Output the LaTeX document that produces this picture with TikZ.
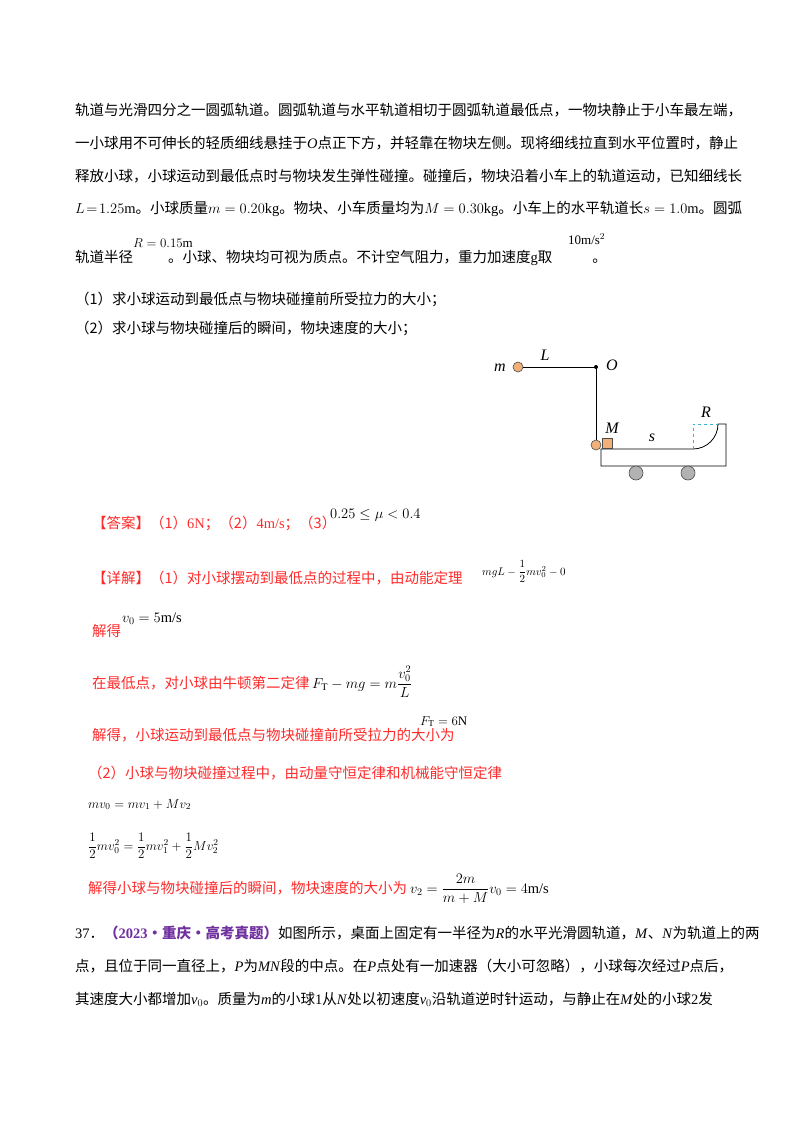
\RequirePackage{fix-cm}
\documentclass[tikz,border=0pt]{standalone}
\usepackage{amsmath}
\usepackage{fontspec}
\setmainfont{Liberation Serif}
\newfontfamily\cjk{Noto Sans CJK SC}
\definecolor{ansred}{HTML}{FF2A2A}
\definecolor{ptitle}{HTML}{7030A0}
\definecolor{ballc}{HTML}{F0B07A}
\definecolor{cyanl}{HTML}{33B5D6}
\newcommand\zh[1]{{\cjk #1}}
\begin{document}
\begin{tikzpicture}[x=1pt,y=-1pt,
  txt/.style={anchor=base west,inner sep=0pt,font=\fontsize{14.5}{17}\selectfont},
  red/.style={txt,text=ansred},
  sm/.style={anchor=base west,inner sep=0pt,font=\fontsize{13}{15}\selectfont},
  lbl/.style={inner sep=0pt,font=\fontsize{16}{18}\selectfont\itshape},
  ball/.style={circle,draw=black!70,fill=ballc,line width=0.6pt,minimum size=10pt,inner sep=0pt},
  wheel/.style={circle,draw=black!70,fill=black!30,line width=0.6pt,minimum size=14pt,inner sep=0pt}]
\useasboundingbox[fill=white] (0,0) rectangle (800,1132);
% problem text
\node[txt] (t1) at (75,115) {\zh{轨道与光滑四分之一圆弧轨道。圆弧轨道与水平轨道相切于圆弧轨道最低点，一物块静止于小车最左端，}};
\node[txt] (t2) at (75,148) {\zh{一小球用不可伸长的轻质细线悬挂于}$\mathit{O}$\zh{点正下方，并轻靠在物块左侧。现将细线拉直到水平位置时，静止}};
\node[txt] (t3) at (75,181) {\zh{释放小球，小球运动到最低点时与物块发生弹性碰撞。碰撞后，物块沿着小车上的轨道运动，已知细线长}};
\node[txt] (t4) at (75,213) {$L\!=\!1.25$m\zh{。小球质量}$m=0.20$kg\zh{。物块、小车质量均为}$M=0.30$kg\zh{。小车上的水平轨道长}$s=1.0$m\zh{。圆弧}};
\node[txt] (t5) at (75,262) {\zh{轨道半径}\hspace{35pt}\zh{。小球、物块均可视为质点。不计空气阻力，重力加速度}g\zh{取}\hspace{40pt}\zh{。}};
\node[sm] (t5a) at (133,247) {$R=0.15$m};
\node[sm] (t5b) at (568,244) {10m/s$^2$};
\node[txt] (q1) at (75,304) {\zh{（1）求小球运动到最低点与物块碰撞前所受拉力的大小；}};
\node[txt] (q2) at (75,333) {\zh{（2）求小球与物块碰撞后的瞬间，物块速度的大小；}};
% answer
\node[red] (a1) at (92,528) {\zh{【答案】（1）}6N\zh{；（2）}4m/s\zh{；（3）}};
\node[txt] (a1b) at (330,518) {$0.25\le\mu<0.4$};
\node[red] (d1) at (92,583) {\zh{【详解】（1）对小球摆动到最低点的过程中，由动能定理}};
\node[sm,font=\fontsize{11}{13}\selectfont] (d1b) at (482,575) {$mgL-\dfrac12 mv_0^2-0$};
\node[red] (d2) at (92,636) {\zh{解得}};
\node[txt] (d2b) at (122,622) {$v_0=5$m/s};
\node[red] (d3) at (92,688) {\zh{在最低点，对小球由牛顿第二定律}};
\node[txt] (d3b) at (312,688) {$F_{\mathrm T}-mg=m\dfrac{v_0^2}{L}$};
\node[red] (d4) at (92,740) {\zh{解得，小球运动到最低点与物块碰撞前所受拉力的大小为}};
\node[sm] (d4b) at (420,725) {$F_{\mathrm T}=6$N};
\node[red] (d5) at (88,778) {\zh{（2）小球与物块碰撞过程中，由动量守恒定律和机械能守恒定律}};
\node[sm] (d6) at (88,808) {$mv_0=mv_1+Mv_2$};
\node[sm] (d7) at (88,850) {$\dfrac12mv_0^2=\dfrac12mv_1^2+\dfrac12Mv_2^2$};
\node[red] (d8) at (88,893) {\zh{解得小球与物块碰撞后的瞬间，物块速度的大小为}};
\node[txt] (d8b) at (410,893) {$v_2=\dfrac{2m}{m+M}v_0=4$m/s};
% next problem
\node[txt] (p1) at (75,938) {37\zh{．}\textcolor{ptitle}{\textbf{\zh{（}2023\zh{·重庆·高考真题）}}}\zh{如图所示，桌面上固定有一半径为}\textit{R}\zh{的水平光滑圆轨道，}\textit{M}\zh{、}\textit{N}\zh{为轨道上的两}};
\node[txt] (p2) at (75,971) {\zh{点，且位于同一直径上，}\textit{P}\zh{为}\textit{MN}\zh{段的中点。在}\textit{P}\zh{点处有一加速器（大小可忽略），小球每次经过}\textit{P}\zh{点后，}};
\node[txt] (p3) at (75,1004) {\zh{其速度大小都增加}\textit{v}$_0$\zh{。质量为}\textit{m}\zh{的小球}1\zh{从}\textit{N}\zh{处以初速度}\textit{v}$_0$\zh{沿轨道逆时针运动，与静止在}\textit{M}\zh{处的小球}2\zh{发}};
% diagram
\coordinate (O) at (596,367);
\coordinate (A) at (693,449);
\coordinate (B) at (718,424);
\coordinate (C) at (693,424);
\node[ball] (mb) at (518,367) {};
\draw[line width=0.8pt] (mb) -- (O) -- (596,440);
\fill (O) circle (2pt);
\node[ball] (mb2) at (596,445) {};
\draw[line width=0.8pt] (601,449) -- (A) arc[start angle=90,end angle=0,radius=25] -- (726,424) -- (726,466) -- (601,466) -- cycle;
\draw[cyanl,dashed,line width=0.8pt] (A) -- (C) -- (B);
\node[draw=black!70,fill=ballc,line width=0.6pt,minimum size=10pt,inner sep=0pt,anchor=south west] (blk) at (601.5,449) {};
\node[wheel] (w1) at (636,473) {};
\node[wheel] (w2) at (688,473) {};
\node[lbl] (lm) at (500,368) {m};
\node[lbl] (lL) at (545,355) {L};
\node[lbl] (lO) at (612,365) {O};
\node[lbl] (lM) at (612,428) {M};
\node[lbl] (ls) at (652,438) {s};
\node[lbl] (lR) at (706,412) {R};
\end{tikzpicture}
\end{document}
